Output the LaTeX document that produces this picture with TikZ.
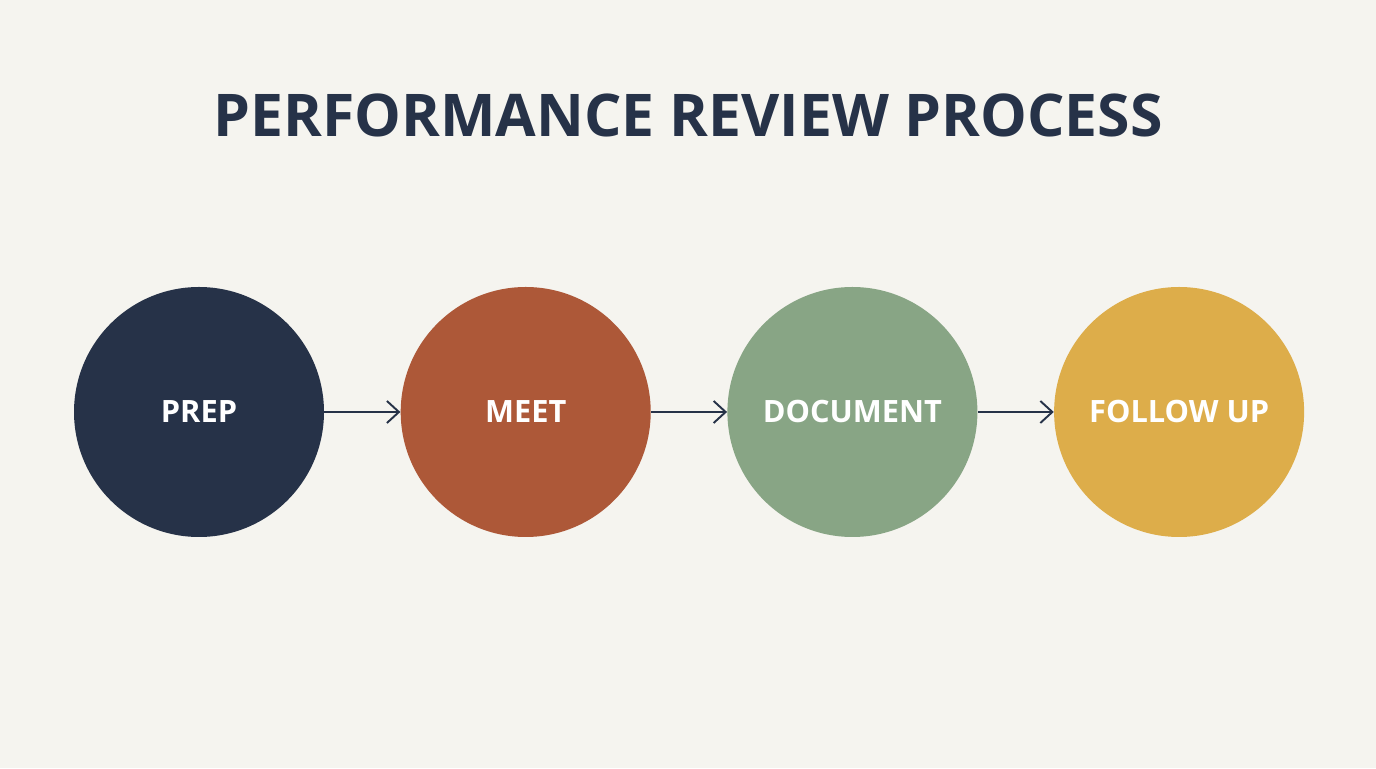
\documentclass[tikz,border=0pt]{standalone}
\usepackage{fontspec}
\setmainfont{Open Sans}
\usetikzlibrary{positioning,arrows.meta}
\definecolor{navy}{RGB}{38, 50, 72}
\definecolor{rust}{RGB}{173, 88, 56}
\definecolor{sage}{RGB}{136, 165, 133}
\definecolor{gold}{RGB}{221, 173, 74}
\definecolor{paper}{RGB}{245, 244, 239}
\begin{document}
\begin{tikzpicture}[
    stage/.style={circle, minimum size=5cm, inner sep=0pt, text=white,
      font=\fontsize{17.5}{20}\selectfont\bfseries},
    flow/.style={-{Straight Barb[length=2.4mm,width=4.4mm]}, line width=1.1pt, navy}
  ]
  % canvas
  \fill[paper] (0,0) rectangle (27.52,15.36);
  \useasboundingbox (0,0) rectangle (27.52,15.36);
  \node[navy, font=\fontsize{33.5}{40}\selectfont\bfseries] (title) at (13.76,13.05) {PERFORMANCE REVIEW PROCESS};

  % steps
  \node[stage, fill=navy] (prep) at (3.98,7.12) {PREP};
  \node[stage, fill=rust, right=1.52cm of prep] (meet) {MEET};
  \node[stage, fill=sage, right=1.52cm of meet] (document) {DOCUMENT};
  \node[stage, fill=gold, right=1.52cm of document] (followup) {FOLLOW UP};

  \draw[flow] (prep) -- (meet);
  \draw[flow] (meet) -- (document);
  \draw[flow] (document) -- (followup);
\end{tikzpicture}
\end{document}
